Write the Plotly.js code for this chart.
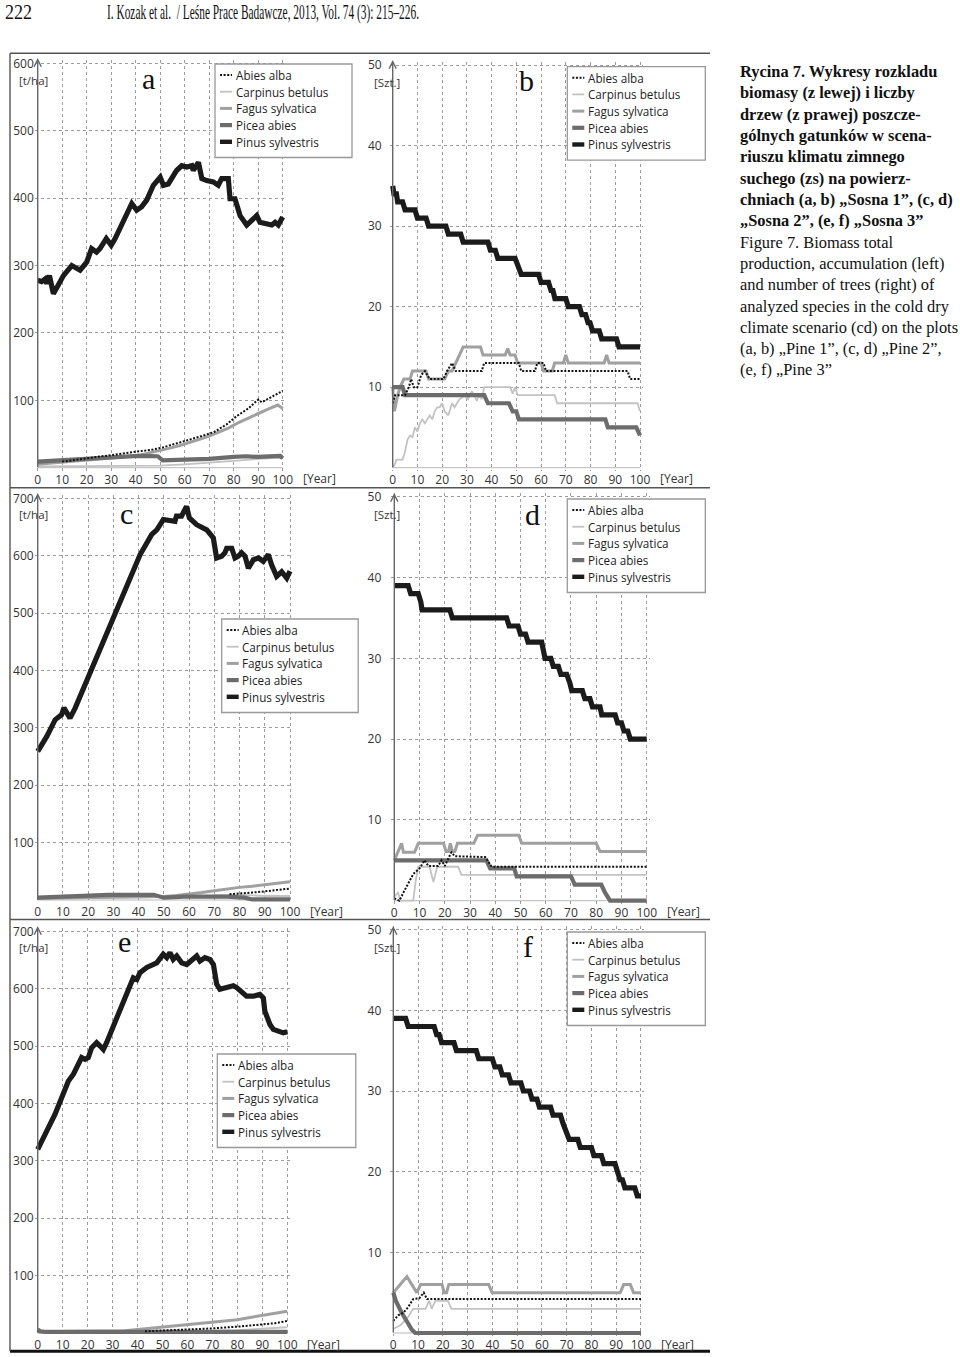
<!DOCTYPE html>
<html><head><meta charset="utf-8">
<script src="https://cdn.plot.ly/plotly-3.0.1.min.js"></script>
<style>html,body{margin:0;padding:0;background:#fff}</style>
</head><body>
<div id="chart" style="width:960px;height:1357px"></div>
<script>
// ---------------- DATA ----------------
const SPECIES = ['Abies alba','Carpinus betulus','Fagus sylvatica','Picea abies','Pinus sylvestris'];
const xTickVals = [0,10,20,30,40,50,60,70,80,90,100];
const xTickText = ['0','10','20','30','40','50','60','70','80','90','100'];
const biomassTicksA = [100,200,300,400,500,600];
const biomassTicksCE = [100,200,300,400,500,600,700];
const countTicks = [10,20,30,40,50];

// a: biomass, Pine 1
const aPinusYr = [0,1.6,3,3.7,4.8,6.4,8.4,10.5,13.9,17.3,20,22,24,25.4,28,30,31.6,35,38.4,40.4,42.4,44.5,47.2,50,51.3,53.3,56.7,58.8,60.8,62.9,63.5,65.6,67,69,71.7,73.7,75.1,77.8,78.5,80.5,82.6,85.3,87.3,89.4,90.7,93.5,95.5,96.9,98.2,100];
const aPinus   = [278,276,280,273,285,258,271,285,300,293,305,325,320,325,340,330,340,364,392,382,387,397,419,431,419,421,441,448,446,448,441,453,429,426,424,419,429,429,399,399,374,360,367,374,364,362,360,364,360,372];
const aAbiesYr = [10,14,20,25,31,36,42,47,51,56,62,67,72,77,81,86,90,91.4,95,100];
const aAbies   = [9,11,13,15.5,19,21,24,27,30,35,41,47,53,64,76,88,101,97,104,114];
const aCarpinusYr = [0,30,50,60,70,80,90,100];
const aCarpinus   = [2,3,3,5,7,10,13,15];
const aFagusYr = [0,10,20,30,38,42,46,50,54,58,62,66,70,74,78,82,86,90,94,98,100];
const aFagus   = [5,8,11,14,17,19,22,25,29,33,37,42,47,53,59,67,74,81,87,93,88];
const aPiceaYr = [0,10,20,28,41,49,51,60,70,80,85,90,95,99,100];
const aPicea   = [9,11,14,16,17.5,17,11,12,13,16,17,16,17,17.5,14];

// b: number of trees, Pine 1
const bPinusYr = [0,0.5,1.5,2,4,5,9,10,13.5,14.5,21.5,22.5,27.5,28.5,38.5,39.5,41.5,42.5,49.5,50.5,51,52,59,60,63,64,64.8,65.6,70,71,75.5,76.5,78,79,79.8,80.8,83.5,84.5,90.5,91.5,100];
const bPinus   = [35,34,34,33,33,32,32,31,31,30,30,29,29,28,28,27,27,26,26,25,25,24,24,23,23,22,22,21,21,20,20,19,19,18,18,17,17,16,16,15,15];
const bFagusYr = [0,0.7,2,3,4.5,7,8,13.5,14.5,21,22.5,24,25.5,27,28.5,35.5,36.5,45.5,46.5,47.5,49.5,50.5,60,61,64.5,65.5,69,70,71,85.5,86.5,87.5,100];
const bFagus   = [10,7,9,10,11,11,12,12,11,11,12,12,13,14,15,15,14,14,14.8,14,14,13,13,12,12,13,13,14,13,13,14,13,13];
const bAbiesYr = [0,1,5,6.5,7.5,8.5,10,11.5,13,15,20.5,22,24,25.5,36,37,51,52,57.5,58.5,61,62,95,96,100];
const bAbies   = [8,9,9,10,11,10,10,11.5,12,11,11,12,13,12,12,13,13,12,12,13,13,12,12,11,11];
const bCarpinusYr = [0,1,1.5,4,5,6,7,8,9,10,11,12,13,14,15,16,17,18,19,20,21,22.5,24,25,27,29,30.5,32,33,34,35,36,37,47.5,48.5,49.5,50.5,65.5,66.5,99,100];
const bCarpinus   = [0,0.5,1,1,2,3.5,4,3.8,5,4.5,5.5,6,5.5,6,6.5,6,7,7.5,7.5,8,7,6.5,8,7.5,8.5,9,8.5,9.5,9,8.3,9,8.5,10,10,9.2,10,9,9,8,8,7];
const bPiceaYr = [0,4,5,37,38.5,47,48.5,50,51,86,87,98.5,100];
const bPicea   = [10,10,9,9,8,8,7,7,6,6,5,5,4];

// c: biomass, Pine 2
const cPinusYr = [0,3.6,6.9,9.5,10.4,11.5,12.8,14.8,19.4,24.7,30,35.3,40.6,45.2,47.2,49.8,54.4,55,57,59,60.1,63,67,69.6,70.9,72.9,74.2,74.9,76.9,78.2,79.5,80.8,82.2,83.5,85.5,87.5,89.4,91.4,92.7,94.7,96.7,98.7,100];
const cPinus   = [259,285,314,323,335,328,317,334,381,439,491,547,602,637,645,663,660,669,669,686,666,654,645,631,596,599,605,613,613,596,599,605,599,578,593,596,590,602,584,564,572,561,573];
const cFagusYr = [0,20,40,50,55,60,65,70,76,80,85,90,95,100];
const cFagus   = [3,4,5,6,8,10,13,16,20,22,24,27,30,32];
const cPiceaYr = [0,15,28,46,50,58,75,82,85,100];
const cPicea   = [4,6,9,9,4,6,6,4,1,1];
const cCarpinusYr = [0,20,40,50,60,70,76,80,85,90,100];
const cCarpinus   = [2,3,4,5,6,8,9,9,8,7,7];
const cAbiesYr = [76,80,85,90,95,100];
const cAbies   = [10,11,13,15,18,20];

// d: number of trees, Pine 2
const dPinusYr = [0,5.5,6.5,9.5,10.5,11,22,23,44.5,45.5,49,50,52,53,58.4,59,59.7,62,63,65,66,68.3,69,69.5,70.3,74.5,75.5,77.5,78.5,81.5,82.2,87.5,88.5,90,91,92.5,93.5,100];
const dPinus   = [39,39,38,38,37,36,36,35,35,34,34,33,33,32,32,31,30,30,29,29,28,28,27,27,26,26,25,25,24,24,23,23,22,22,21,21,20,20];
const dFagusYr = [0,1.5,2.9,3.6,8,9.5,19.5,20.5,21.5,22.2,23,24,25,31.5,33,49.3,50.5,80,81.5,100];
const dFagus   = [5,6,7.1,6,6,7.1,7.1,6.1,6.1,7.1,6.1,6.1,7.1,7.1,8.1,8.1,7.1,7.1,6.1,6.1];
const dPiceaYr = [0,36.5,38,47.5,48.5,70,71.5,82,83.5,85.5,100];
const dPicea   = [5,5,4,4,3,3,2,2,1,0,0];
const dAbiesYr = [0,2,3.6,5.5,7.5,10,12,13.5,17.4,18.7,20,22.6,24,36,38.6,100];
const dAbies   = [0.3,0,1,2.2,3.3,4,5,4.3,4.3,5,4.3,6,5.5,5.4,4.2,4.2];
const dCarpinusYr = [0,1.5,2.5,7.5,8.5,9.5,14,15.5,17,25.3,26.6,100];
const dCarpinus   = [0.5,1,0,0,2.5,4.2,4.2,2.3,4.2,4.2,3.2,3.2];

// e: biomass, Pine 3
const ePinusYr = [0,2.3,4.3,6.9,9.6,12.3,14.3,16.3,17.6,19,20.3,21.6,23.6,25,26.3,27.6,30.3,33,35.6,38.3,39.7,41,43.7,45.7,47.7,50.3,51.7,53,54.3,55.7,57.7,59.7,61.7,63.7,65,67,69,70.4,71.7,73,75.7,78.4,79.7,81.7,83.7,86.4,89,90.4,91,93,94.4,96.4,98.4,100];
const ePinus   = [320,340,358,381,410,439,451,468,480,477,480,497,506,500,494,506,535,564,593,619,616,628,637,640,645,660,654,663,651,657,645,642,651,657,648,654,651,642,608,599,602,605,602,593,587,587,590,584,561,538,529,526,523,525];
const eFagusYr = [0,20,35,40,45,50,55,60,65,70,75,80,85,90,95,100];
const eFagus   = [2,3,4,6,8,10,12,14,16,18,20,23,27,31,35,38];
const eAbiesYr = [43,50,60,70,80,90,95,100];
const eAbies   = [3,4,6,8,11,15,17,21];
const eCarpinusYr = [0,40,60,80,90,100];
const eCarpinus   = [1,2,3,5,7,10];
const ePiceaYr = [0,1,3,20,40,60,80,100];
const ePicea   = [6,3,2,2,2,2,2,2];

// f: number of trees, Pine 3
const fPinusYr = [0,5,6,16.5,17.5,18.5,19.5,24.5,25.5,33.5,34.5,40,41,43,44,46.5,47.5,51.5,52.5,55,56,58,59,63.5,64.5,67.5,68.5,69.5,71,74.5,75.5,80,81,84,85,89.5,90.5,91.5,92.5,93.5,97.5,98.5,100];
const fPinus   = [39,39,38,38,37,37,36,36,35,35,34,34,33,33,32,32,31,31,30,30,29,29,28,28,27,27,26,25,24,24,23,23,22,22,21,21,20,19,19,18,18,17,17];
const fFagusYr = [0,2.8,5.5,7.5,9.5,11,19.7,20.5,21.5,22.4,38.5,39.9,91.6,93,95.7,97,100];
const fFagus   = [5,6,7,6,5,6,6,5,5,6,6,5,5,6,6,5,5];
const fPiceaYr = [0,1,3.4,5.5,7.5,8.9,100];
const fPicea   = [5,4,2.5,1.3,0.4,0,0];
const fAbiesYr = [0,2,4,6,8,10.5,12.3,13.6,100];
const fAbies   = [1.5,2.2,2.5,3.2,4.2,4.3,5,4.2,4.2];
const fCarpinusYr = [0,3,6,8,13,14.5,15.5,17,22,23.5,100];
const fCarpinus   = [0.5,1,2,3,3,4,3,4,4,3,3];

const captionBold = [
  'Rycina 7. Wykresy rozkladu',
  'biomasy (z lewej) i liczby',
  'drzew (z prawej) poszcze-',
  'gólnych gatunków w scena-',
  'riuszu klimatu zimnego',
  'suchego (zs) na powierz-',
  'chniach (a, b) \u201ESosna 1\u201D, (c, d)',
  '\u201ESosna 2\u201D, (e, f) \u201ESosna 3\u201D'
];
const captionPlain = [
  'Figure 7. Biomass total',
  'production, accumulation (left)',
  'and number of trees (right) of',
  'analyzed species in the cold dry',
  'climate scenario (cd) on the plots',
  '(a, b) \u201EPine 1\u201D, (c, d) \u201EPine 2\u201D,',
  '(e, f) \u201EPine 3\u201D'
];
const pageNumber = '222';
const runningHead = 'I. Kozak et al.  / Le\u015Bne Prace Badawcze, 2013, Vol. 74 (3): 215\u2013226.';

// ---------------- STYLES & LAYOUT ----------------
const W = 960, H = 1357;
const PX = x => x / W, PY = y => 1 - y / H;
const STYLE = {
  'Abies alba':       {color:'#111111', width:2,   dash:'2px,1.6px'},
  'Carpinus betulus': {color:'#c2c2c2', width:1.8, dash:'solid'},
  'Fagus sylvatica':  {color:'#a0a0a0', width:3,   dash:'solid'},
  'Picea abies':      {color:'#6c6c6c', width:4.2, dash:'solid'},
  'Pinus sylvestris': {color:'#1b1b1b', width:5.2, dash:'solid'}
};
const DRAW_ORDER = ['Carpinus betulus','Fagus sylvatica','Picea abies','Pinus sylvestris','Abies alba'];

const panels = [
  {letter:'a', X0:37.7, X100:282.7, Y0:467.7, Ytop:63.3, ymax:600, ticks:biomassTicksA, unit:'[t/ha]', unitXY:[33.5,81],
   letterXY:[148,79], arrowTop:58, legend:[215,64,137], yearY:478.3, standoff:0,
   series:{'Abies alba':[aAbiesYr,aAbies],'Carpinus betulus':[aCarpinusYr,aCarpinus],'Fagus sylvatica':[aFagusYr,aFagus],'Picea abies':[aPiceaYr,aPicea],'Pinus sylvestris':[aPinusYr,aPinus]}},
  {letter:'b', X0:392.7, X100:640, Y0:467.7, Ytop:65, ymax:50, ticks:countTicks, unit:'[Szt.]', unitXY:[386.5,82],
   letterXY:[526.7,80], arrowTop:60, legend:[567.3,66.7,138], yearY:478.3, standoff:7,
   series:{'Abies alba':[bAbiesYr,bAbies],'Carpinus betulus':[bCarpinusYr,bCarpinus],'Fagus sylvatica':[bFagusYr,bFagus],'Picea abies':[bPiceaYr,bPicea],'Pinus sylvestris':[bPinusYr,bPinus]}},
  {letter:'c', X0:37.7, X100:290, Y0:900, Ytop:498.3, ymax:700, ticks:biomassTicksCE, unit:'[t/ha]', unitXY:[33.5,514.3],
   letterXY:[126.7,513], arrowTop:493, legend:[221.7,619,136.5], yearY:911, standoff:0,
   series:{'Abies alba':[cAbiesYr,cAbies],'Carpinus betulus':[cCarpinusYr,cCarpinus],'Fagus sylvatica':[cFagusYr,cFagus],'Picea abies':[cPiceaYr,cPicea],'Pinus sylvestris':[cPinusYr,cPinus]}},
  {letter:'d', X0:394.3, X100:646.7, Y0:900.7, Ytop:496.7, ymax:50, ticks:countTicks, unit:'[Szt.]', unitXY:[386.5,514.3],
   letterXY:[532.7,515], arrowTop:493, legend:[567.3,499,138], yearY:911, standoff:9,
   series:{'Abies alba':[dAbiesYr,dAbies],'Carpinus betulus':[dCarpinusYr,dCarpinus],'Fagus sylvatica':[dFagusYr,dFagus],'Picea abies':[dPiceaYr,dPicea],'Pinus sylvestris':[dPinusYr,dPinus]}},
  {letter:'e', X0:37.7, X100:287.3, Y0:1333, Ytop:931.3, ymax:700, ticks:biomassTicksCE, unit:'[t/ha]', unitXY:[33.5,947.3],
   letterXY:[124.3,941], arrowTop:926, legend:[217.3,1054,138.5], yearY:1344, standoff:0,
   series:{'Abies alba':[eAbiesYr,eAbies],'Carpinus betulus':[eCarpinusYr,eCarpinus],'Fagus sylvatica':[eFagusYr,eFagus],'Picea abies':[ePiceaYr,ePicea],'Pinus sylvestris':[ePinusYr,ePinus]}},
  {letter:'f', X0:393.3, X100:641, Y0:1333, Ytop:929.7, ymax:50, ticks:countTicks, unit:'[Szt.]', unitXY:[386.5,947.3],
   letterXY:[528.3,946.3], arrowTop:926, legend:[567.3,932,138], yearY:1344, standoff:8,
   series:{'Abies alba':[fAbiesYr,fAbies],'Carpinus betulus':[fCarpinusYr,fCarpinus],'Fagus sylvatica':[fFagusYr,fFagus],'Picea abies':[fPiceaYr,fPicea],'Pinus sylvestris':[fPinusYr,fPinus]}}
];

const TICKFONT = {family:'Open Sans, Noto Sans, sans-serif', size:12, color:'#333333'};
const GRID = '#9c9c9c';
const traces = [], shapes = [], annotations = [];
const layout = {
  width:W, height:H, margin:{l:0,r:0,t:0,b:0,pad:0},
  paper_bgcolor:'#ffffff', plot_bgcolor:'rgba(0,0,0,0)', showlegend:false,
  font:{family:'Open Sans, Noto Sans, sans-serif', color:'#333'},
  shapes, annotations
};

// header (indices 0 and 1 are used below)
annotations.push({xref:'paper',yref:'paper',x:PX(4),y:PY(12),xanchor:'left',yanchor:'middle',showarrow:false,
  text:pageNumber,font:{family:'Liberation Serif, serif',size:21,color:'#111'}});
annotations.push({xref:'paper',yref:'paper',x:PX(106),y:PY(12),xanchor:'left',yanchor:'middle',showarrow:false,
  text:runningHead,font:{family:'Liberation Serif, serif',size:21,color:'#111'}});

// caption
const capText = captionBold.map(s => '<b>' + s + '</b>').concat(captionPlain).join('<br>');
annotations.push({xref:'paper',yref:'paper',x:PX(738),y:PY(221),xanchor:'left',yanchor:'middle',align:'left',showarrow:false,
  text:capText,font:{family:'Liberation Serif, serif',size:16.4,color:'#111'}});

// frame lines
const frameGray = '#555';
[[53.3,1.4,frameGray],[487.7,1.4,frameGray],[919.5,1.4,frameGray],[1351.3,3,'#111']].forEach(([y,w,c]) => {
  shapes.push({type:'line',xref:'paper',yref:'paper',x0:PX(10),x1:PX(710),y0:PY(y),y1:PY(y),line:{color:c,width:w},layer:'above'});
});
shapes.push({type:'line',xref:'paper',yref:'paper',x0:PX(10),x1:PX(10),y0:PY(53.3),y1:PY(1351.3),line:{color:frameGray,width:1.4},layer:'above'});

panels.forEach((p, i) => {
  const n = i === 0 ? '' : String(i + 1);
  const kx = (p.X100 - p.X0) / 100;
  const ky = (p.Y0 - p.Ytop) / p.ymax;
  const xlo = -1.2, xhi = 101.2;
  const ylo = -3.4 / ky, yhi = p.ymax + 3.4 / ky;
  const left = p.X0 + xlo * kx, right = p.X0 + xhi * kx;
  const bottom = p.Y0 - ylo * ky, top = p.Y0 - yhi * ky;
  layout['xaxis' + n] = {
    domain:[PX(left), PX(right)], range:[xlo, xhi], anchor:'y' + n,
    tickmode:'array', tickvals:xTickVals, ticktext:xTickText, ticks:'', ticklabelstandoff:0,
    showgrid:true, gridcolor:GRID, gridwidth:1, griddash:'3px,3px',
    zeroline:false, showline:false, automargin:false, fixedrange:true, tickfont:TICKFONT
  };
  layout['yaxis' + n] = {
    domain:[PY(bottom), PY(top)], range:[ylo, yhi], anchor:'x' + n,
    tickmode:'array', tickvals:p.ticks, ticktext:p.ticks.map(String), ticks:'', ticklabelstandoff:p.standoff,
    showgrid:true, gridcolor:GRID, gridwidth:1, griddash:'3px,3px',
    zeroline:false, showline:false, automargin:false, fixedrange:true, tickfont:TICKFONT
  };
  DRAW_ORDER.forEach(name => {
    const [xs, ys] = p.series[name];
    const s = STYLE[name];
    traces.push({type:'scatter', mode:'lines', name, x:xs, y:ys, xaxis:'x' + n, yaxis:'y' + n,
      line:{color:s.color, width:s.width, dash:s.dash, shape:'linear'}, showlegend:false, hoverinfo:'skip'});
  });
  shapes.push({type:'line',xref:'paper',yref:'paper',x0:PX(p.X0),x1:PX(p.X100),y0:PY(p.Y0),y1:PY(p.Y0),line:{color:'#b8b8b8',width:1},layer:'below'});
  annotations.push({xref:'paper',yref:'paper',x:PX(p.X0),y:PY(p.arrowTop),ax:0,ay:p.Y0 - p.arrowTop + 1,
    text:'',showarrow:true,arrowhead:5,arrowsize:1,arrowwidth:1.4,arrowcolor:'#666'});
  annotations.push({xref:'paper',yref:'paper',x:PX(p.unitXY[0]),y:PY(p.unitXY[1]),xanchor:'center',yanchor:'middle',
    showarrow:false,text:p.unit,font:{family:'Open Sans, sans-serif',size:11.5,color:'#363636'}});
  annotations.push({xref:'paper',yref:'paper',x:PX(p.X100 + 18),y:PY(p.yearY),xanchor:'left',yanchor:'middle',
    showarrow:false,text:'[Year]',font:{family:'Open Sans, sans-serif',size:12,color:'#333333'}});
  annotations.push({xref:'paper',yref:'paper',x:PX(p.letterXY[0]),y:PY(p.letterXY[1]),xanchor:'center',yanchor:'middle',
    showarrow:false,text:p.letter,font:{family:'Liberation Serif, serif',size:30,color:'#111'}});
  const [L, T, LW] = p.legend;
  shapes.push({type:'rect',xref:'paper',yref:'paper',x0:PX(L),x1:PX(L + LW),y0:PY(T),y1:PY(T + 93.5),
    fillcolor:'#ffffff',line:{color:'#999999',width:1.3},layer:'above'});
  SPECIES.forEach((name, j) => {
    const yy = T + 11 + j * 16.7;
    const s = STYLE[name];
    shapes.push({type:'line',xref:'paper',yref:'paper',x0:PX(L + 5),x1:PX(L + 17),y0:PY(yy),y1:PY(yy),
      line:{color:s.color,width:Math.min(s.width,4.4),dash:s.dash},layer:'above'});
    annotations.push({xref:'paper',yref:'paper',x:PX(L + 18.5),y:PY(yy),xanchor:'left',yanchor:'middle',
      showarrow:false,text:name,font:{family:'Open Sans, sans-serif',size:11.7,color:'#1e1e1e'}});
  });
});

Plotly.newPlot('chart', traces, layout, {staticPlot:true, displayModeBar:false}).then(() => {
  // the printed running head is set in a condensed face: squeeze the glyphs to the measured widths,
  // keeping the measured left edge
  const squeeze = (idx, leftPx, len) => {
    const t = document.querySelector('.annotation[data-index="' + idx + '"] text.annotation-text');
    if (!t) return;
    t.setAttribute('textLength', len);
    t.setAttribute('lengthAdjust', 'spacingAndGlyphs');
    const r = t.getBoundingClientRect();
    const dx = leftPx - r.left;
    const prev = t.getAttribute('transform') || '';
    t.setAttribute('transform', prev + ' translate(' + dx.toFixed(1) + ',0)');
  };
  squeeze(0, 5, 27);
  squeeze(1, 107, 312);
});
</script>
</body></html>
